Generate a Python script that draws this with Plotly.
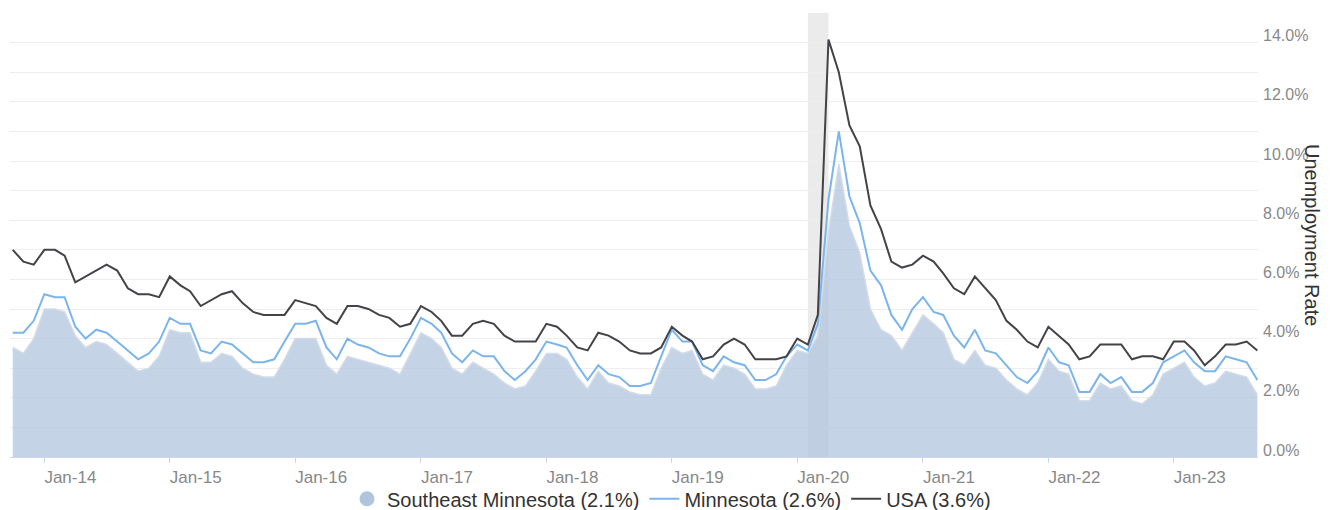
import pandas as pd
import plotly.graph_objects as go

# monthly, Oct 2013 - Sep 2023
months = pd.date_range("2013-10-01", "2023-09-01", freq="MS")

se_mn = [3.7, 3.5, 4.0, 5.0, 5.0, 4.9, 4.1, 3.7, 3.9, 3.8, 3.5, 3.2,
         2.9, 3.0, 3.4, 4.3, 4.2, 4.2, 3.2, 3.2, 3.5, 3.4, 3.0, 2.8,
         2.7, 2.7, 3.3, 4.0, 4.0, 4.0, 3.1, 2.8, 3.4, 3.3, 3.2, 3.1,
         3.0, 2.8, 3.5, 4.2, 4.0, 3.7, 3.0, 2.8, 3.2, 3.0, 2.8, 2.5,
         2.3, 2.4, 2.9, 3.5, 3.5, 3.3, 2.7, 2.3, 2.9, 2.5, 2.4, 2.2,
         2.1, 2.1, 3.0, 3.7, 3.5, 3.6, 2.8, 2.6, 3.1, 3.0, 2.8, 2.3,
         2.3, 2.4, 3.1, 3.6, 3.5, 4.1, 7.6, 9.9, 7.8, 6.9, 5.0, 4.3,
         4.1, 3.6, 4.2, 4.8, 4.5, 4.2, 3.3, 3.1, 3.6, 3.1, 3.0, 2.6,
         2.3, 2.1, 2.5, 3.3, 2.9, 2.8, 1.9, 1.9, 2.5, 2.3, 2.4, 1.9,
         1.8, 2.1, 2.8, 3.0, 3.2, 2.7, 2.4, 2.5, 2.9, 2.8, 2.7, 2.1]

minnesota = [4.2, 4.2, 4.6, 5.5, 5.4, 5.4, 4.4, 4.0, 4.3, 4.2, 3.9, 3.6,
             3.3, 3.5, 3.9, 4.7, 4.5, 4.5, 3.6, 3.5, 3.9, 3.8, 3.5, 3.2,
             3.2, 3.3, 3.9, 4.5, 4.5, 4.6, 3.7, 3.3, 4.0, 3.8, 3.7, 3.5,
             3.4, 3.4, 4.0, 4.7, 4.5, 4.2, 3.5, 3.2, 3.6, 3.4, 3.4, 2.9,
             2.6, 2.9, 3.3, 3.9, 3.8, 3.7, 3.1, 2.6, 3.1, 2.8, 2.7, 2.4,
             2.4, 2.5, 3.4, 4.3, 3.9, 3.9, 3.1, 2.9, 3.4, 3.2, 3.1, 2.6,
             2.6, 2.8, 3.4, 3.8, 3.6, 4.5, 8.7, 11.0, 8.8, 7.9, 6.3, 5.8,
             4.8, 4.3, 5.0, 5.4, 4.9, 4.8, 4.1, 3.7, 4.3, 3.6, 3.5, 3.1,
             2.7, 2.5, 2.9, 3.7, 3.2, 3.1, 2.2, 2.2, 2.8, 2.5, 2.7, 2.2,
             2.2, 2.5, 3.2, 3.4, 3.6, 3.2, 2.9, 2.9, 3.4, 3.3, 3.2, 2.6]

usa = [7.0, 6.6, 6.5, 7.0, 7.0, 6.8, 5.9, 6.1, 6.3, 6.5, 6.3, 5.7,
       5.5, 5.5, 5.4, 6.1, 5.8, 5.6, 5.1, 5.3, 5.5, 5.6, 5.2, 4.9,
       4.8, 4.8, 4.8, 5.3, 5.2, 5.1, 4.7, 4.5, 5.1, 5.1, 5.0, 4.8,
       4.7, 4.4, 4.5, 5.1, 4.9, 4.6, 4.1, 4.1, 4.5, 4.6, 4.5, 4.1,
       3.9, 3.9, 3.9, 4.5, 4.4, 4.1, 3.7, 3.6, 4.2, 4.1, 3.9, 3.6,
       3.5, 3.5, 3.7, 4.4, 4.1, 3.9, 3.3, 3.4, 3.8, 4.0, 3.8, 3.3,
       3.3, 3.3, 3.4, 4.0, 3.8, 4.8, 14.1, 13.0, 11.2, 10.5, 8.5, 7.7,
       6.6, 6.4, 6.5, 6.8, 6.6, 6.2, 5.7, 5.5, 6.1, 5.7, 5.3, 4.6,
       4.3, 3.9, 3.7, 4.4, 4.1, 3.8, 3.3, 3.4, 3.8, 3.8, 3.8, 3.3,
       3.4, 3.4, 3.3, 3.9, 3.9, 3.6, 3.1, 3.4, 3.8, 3.8, 3.9, 3.6]

names = ["Southeast Minnesota (2.1%)", "Minnesota (2.6%)", "USA (3.6%)"]
font = "Liberation Sans, Arial, sans-serif"

fig = go.Figure()

# recession band
fig.add_shape(type="rect", xref="x", yref="paper", x0="2020-02-01", x1="2020-04-01",
              y0=0, y1=1, fillcolor="#ebebeb", line_width=0, layer="below")

fig.add_trace(go.Scatter(x=months, y=se_mn, mode="lines", fill="tozeroy",
                         fillcolor="rgba(176,196,222,0.75)",
                         line=dict(color="#d3dce8", width=1.5),
                         showlegend=False, name=names[0]))
# legend entry for the area (circle symbol)
fig.add_trace(go.Scatter(x=[None], y=[None], mode="markers", name=names[0],
                         marker=dict(color="#b0c4de", size=15, symbol="circle")))
fig.add_trace(go.Scatter(x=months, y=minnesota, mode="lines", name=names[1],
                         line=dict(color="#7cb5ec", width=2)))
fig.add_trace(go.Scatter(x=months, y=usa, mode="lines", name=names[2],
                         line=dict(color="#434348", width=2)))

fig.update_layout(
    width=1335, height=510,
    margin=dict(l=10, r=77, t=13, b=53, autoexpand=False),
    paper_bgcolor="white", plot_bgcolor="white",
    font=dict(family=font, color="#333333"),
    legend=dict(orientation="h", xref="container", yref="container",
                x=0.503, xanchor="center", y=0.022, yanchor="middle",
                font=dict(size=20, color="#333333"), itemwidth=30,
                bgcolor="rgba(0,0,0,0)", traceorder="normal"),
    xaxis=dict(type="date", range=["2013-09-23", "2023-09-03"],
               tick0="2014-01-01", dtick="M12", tickformat="%b-%y",
               ticks="outside", ticklen=5, tickcolor="#ccd6eb",
               showline=True, linecolor="#ccd6eb", linewidth=1,
               showgrid=False, zeroline=False, ticklabelshift=26,
               automargin=False, tickfont=dict(size=17, color="#888888")),
    yaxis=dict(side="right", range=[0, 15], tick0=0, dtick=2,
               tickformat=".1f", ticksuffix="%",
               showgrid=True, gridcolor="#eeeeee", zeroline=False,
               minor=dict(dtick=1, showgrid=True, gridcolor="#eeeeee"),
               ticklabelshift=-7, ticklabelstandoff=4, automargin=False,
               tickfont=dict(size=16, color="#888888")),
    annotations=[dict(text="Unemployment Rate", textangle=90, xref="paper", yref="paper",
                      x=1, xshift=67, y=0.5, showarrow=False,
                      font=dict(size=20, color="#333333"))],
)

# drop the page's default body margin so the figure sits at the window corner
fig.write_html("out.html", config={"displayModeBar": False},
               post_script="document.body.style.margin='0px';")
